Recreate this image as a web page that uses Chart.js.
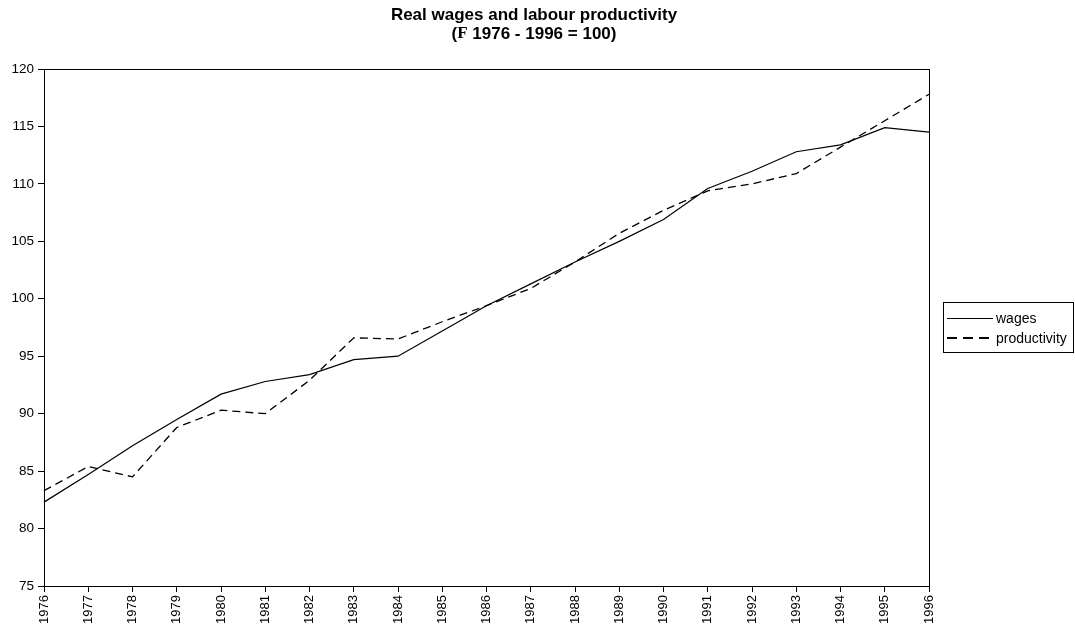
<!DOCTYPE html>
<html>
<head>
<meta charset="utf-8">
<script src="https://cdn.jsdelivr.net/npm/chart.js@4"></script>
<style>
  html, body { margin: 0; padding: 0; background: #fff; }
  #wrap { width: 1075px; height: 632px; }
</style>
</head>
<body>
<div id="wrap"><canvas id="wagesChart"></canvas></div>
<script>
const years = ['1976', '1977', '1978', '1979', '1980', '1981', '1982', '1983', '1984', '1985', '1986',
    '1987', '1988', '1989', '1990', '1991', '1992', '1993', '1994', '1995', '1996'];
const wages = [82.3, 84.7, 87.2, 89.5, 91.7, 92.8, 93.4, 94.7, 95.0, 97.2, 99.4,
    101.3, 103.2, 105.0, 106.9, 109.6, 111.1, 112.8, 113.4, 114.9, 114.5];
const productivity = [83.3, 85.4, 84.5, 88.8, 90.3, 90.0, 92.9, 96.6, 96.5, 98.0, 99.4,
    100.9, 103.2, 105.7, 107.7, 109.4, 110.0, 110.9, 113.2, 115.5, 117.8];
const yTicks = { min: 75, max: 120, step: 5 };

const FONT = '"Liberation Sans", Arial, sans-serif';
const SERIF = '"Liberation Serif", "Times New Roman", serif';

// two-line title centred on the canvas; the symbol in the 2nd line is a serif glyph
const titlePlugin = {
    id: 'twoLineTitle',
    afterDraw(chart) {
        const ctx = chart.ctx;
        const cx = 534;
        ctx.save();
        ctx.fillStyle = '#000';
        ctx.textBaseline = 'middle';
        ctx.textAlign = 'left';

        ctx.font = 'bold 17px ' + FONT;
        const line1 = 'Real wages and labour productivity';
        ctx.fillText(line1, cx - ctx.measureText(line1).width / 2, 15);

        const parts = [
            { t: '(', f: 'bold 17px ' + FONT },
            { t: 'F', f: 'bold 17px ' + SERIF },
            { t: ' 1976 - 1996 = 100)', f: 'bold 17px ' + FONT }
        ];
        let total = 0;
        parts.forEach(p => { ctx.font = p.f; p.w = ctx.measureText(p.t).width; total += p.w; });
        let x = cx - total / 2;
        parts.forEach(p => { ctx.font = p.f; ctx.fillText(p.t, x, 34); x += p.w; });
        ctx.restore();
    }
};

// box around the plot area + framed legend on the right
const framePlugin = {
    id: 'frame',
    afterDraw(chart) {
        const { ctx, chartArea: a } = chart;
        ctx.save();
        ctx.strokeStyle = '#000';
        ctx.lineWidth = 1;
        ctx.strokeRect(Math.round(a.left) + 0.5, Math.round(a.top) + 0.5,
            Math.round(a.right - a.left), Math.round(a.bottom - a.top));

        const lx = 943, ly = 302, lw = 130, lh = 50;
        ctx.strokeRect(lx + 0.5, ly + 0.5, lw, lh);
        ctx.font = '14px ' + FONT;
        ctx.fillStyle = '#000';
        ctx.textBaseline = 'middle';
        chart.data.datasets.forEach((ds, i) => {
            const y = ly + 16 + i * 20;
            ctx.beginPath();
            if (ds.borderDash) {
                ctx.lineWidth = 2;
                ctx.setLineDash([10, 6]);
                ctx.moveTo(lx + 4, y);
                ctx.lineTo(lx + 50, y);
            } else {
                ctx.lineWidth = 1;
                ctx.moveTo(lx + 4, y + 0.5);
                ctx.lineTo(lx + 50, y + 0.5);
            }
            ctx.stroke();
            ctx.setLineDash([]);
            ctx.fillText(ds.label, lx + 53, y + 1);
        });
        ctx.restore();
    }
};

new Chart(document.getElementById('wagesChart'), {
    type: 'line',
    data: {
        labels: years,
        datasets: [
            {
                label: 'wages',
                data: wages,
                borderColor: '#000',
                borderWidth: 1.2,
                pointRadius: 0,
                tension: 0
            },
            {
                label: 'productivity',
                data: productivity,
                borderColor: '#000',
                borderWidth: 1.3,
                borderDash: [8, 5],
                pointRadius: 0,
                tension: 0
            }
        ]
    },
    options: {
        responsive: true,
        maintainAspectRatio: false,
        animation: false,
        layout: { padding: { left: 0, right: 146, top: 69, bottom: 0 } },
        plugins: {
            legend: { display: false },
            tooltip: { enabled: false },
            title: { display: false }
        },
        scales: {
            x: {
                offset: false,
                afterFit: (s) => { s.height = 46; },
                grid: { drawOnChartArea: false, drawTicks: true, tickLength: 6, color: '#000' },
                border: { display: true, color: '#000', width: 1 },
                ticks: {
                    color: '#000',
                    autoSkip: false,
                    minRotation: 90,
                    maxRotation: 90,
                    padding: 3,
                    font: { family: FONT, size: 13 }
                }
            },
            y: {
                min: yTicks.min,
                max: yTicks.max,
                afterFit: (s) => { s.width = 44; },
                grid: { drawOnChartArea: false, drawTicks: true, tickLength: 6, color: '#000' },
                border: { display: true, color: '#000', width: 1 },
                ticks: {
                    stepSize: yTicks.step,
                    color: '#000',
                    padding: 4,
                    font: { family: FONT, size: 13.5 }
                }
            }
        }
    },
    plugins: [titlePlugin, framePlugin]
});
</script>
</body>
</html>
